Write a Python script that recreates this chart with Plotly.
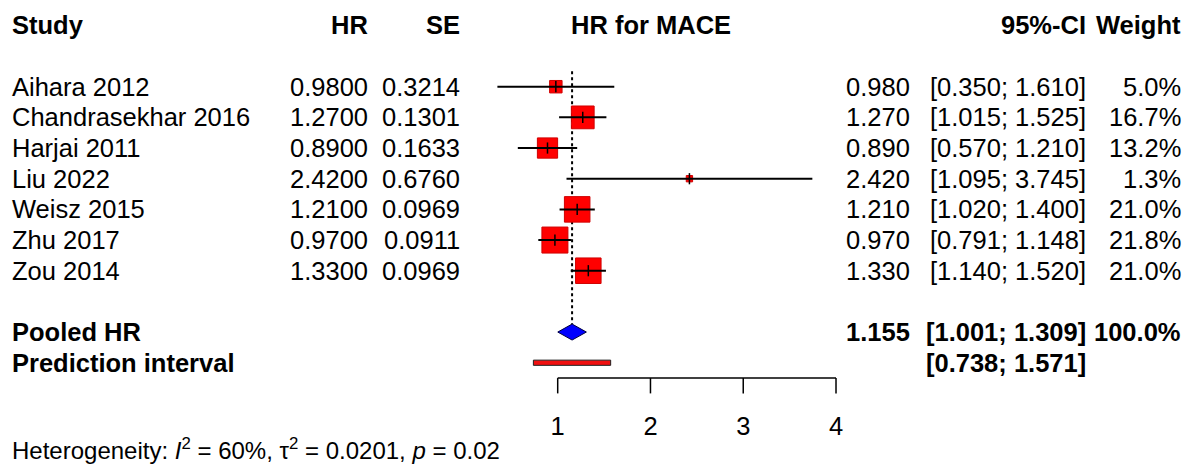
import math
import plotly.graph_objects as go

# ---------------- data ----------------
studies = ["Aihara 2012", "Chandrasekhar 2016", "Harjai 2011", "Liu 2022",
           "Weisz 2015", "Zhu 2017", "Zou 2014"]
hr = [0.98, 1.27, 0.89, 2.42, 1.21, 0.97, 1.33]
se = [0.3214, 0.1301, 0.1633, 0.6760, 0.0969, 0.0911, 0.0969]
ci_lo = [0.350, 1.015, 0.570, 1.095, 1.020, 0.791, 1.140]
ci_hi = [1.610, 1.525, 1.210, 3.745, 1.400, 1.148, 1.520]
weights = [5.0, 16.7, 13.2, 1.3, 21.0, 21.8, 21.0]
pooled_hr = 1.155
pooled_lo = 1.001
pooled_hi = 1.309
pooled_weight = 100.0
pred_lo = 0.738
pred_hi = 1.571
tick_vals = [1, 2, 3, 4]
tick_text = ["1", "2", "3", "4"]
het_text = "Heterogeneity: <i>I</i><sup>2</sup> = 60%, \u03c4<sup>2</sup> = 0.0201, <i>p</i> = 0.02"

# ---------------- layout constants ----------------
W, H = 1194, 470
FONT = "Liberation Sans, Arial, Helvetica, sans-serif"
FS = 25.5
px_per_unit = 92.77
x0 = 1 - 557.7 / px_per_unit
x1 = x0 + W / px_per_unit
row_px = 30.67
first_row_px = 86.7
y_top = 1 - first_row_px / row_px
y_bot = 1 + (H - first_row_px) / row_px

rows = list(range(1, len(studies) + 1))
pooled_row = len(studies) + 2
pred_row = pooled_row + 1
header_row = -1
axis_row = pred_row + 0.5
tick_bottom_row = axis_row + 0.5
ticklabel_row = axis_row + 1.65
het_row = 12.8

fig = go.Figure()

# dotted reference line at pooled estimate
diamond_half = 8 / row_px
fig.add_trace(go.Scatter(x=[pooled_hr, pooled_hr], y=[0.5, pooled_row - diamond_half],
                         mode="lines", line=dict(color="black", width=2, dash="dot"),
                         hoverinfo="skip"))

# squares
max_w = max(weights)
sizes = [26 * math.sqrt(w / max_w) for w in weights]
fig.add_trace(go.Scatter(x=hr, y=rows, mode="markers",
                         marker=dict(symbol="square", size=sizes, color="#FF0000", opacity=1,
                                     line=dict(color="#D00000", width=1)),
                         hoverinfo="skip"))

# CI lines
cx, cy = [], []
for lo, hi, r in zip(ci_lo, ci_hi, rows):
    cx += [lo, hi, None]
    cy += [r, r, None]
fig.add_trace(go.Scatter(x=cx, y=cy, mode="lines", line=dict(color="black", width=2),
                         hoverinfo="skip"))

# small vertical ticks at estimate
fig.add_trace(go.Scatter(x=hr, y=rows, mode="markers",
                         marker=dict(symbol="line-ns", size=8, opacity=1,
                                     line=dict(color="black", width=1.5)),
                         hoverinfo="skip"))

# pooled diamond
fig.add_trace(go.Scatter(x=[pooled_lo, pooled_hr, pooled_hi, pooled_hr, pooled_lo],
                         y=[pooled_row, pooled_row - diamond_half, pooled_row,
                            pooled_row + diamond_half, pooled_row],
                         mode="lines", fill="toself", fillcolor="#0000FF",
                         line=dict(color="#000040", width=1), hoverinfo="skip"))

# prediction interval bar
ph = 2.6 / row_px
fig.add_trace(go.Scatter(x=[pred_lo, pred_hi, pred_hi, pred_lo, pred_lo],
                         y=[pred_row - ph, pred_row - ph, pred_row + ph, pred_row + ph, pred_row - ph],
                         mode="lines", fill="toself", fillcolor="#F01010",
                         line=dict(color="#202020", width=1), hoverinfo="skip"))

# x axis (drawn)
ax_x, ax_y = [tick_vals[0], tick_vals[-1], None], [axis_row, axis_row, None]
for t in tick_vals:
    ax_x += [t, t, None]
    ax_y += [axis_row, tick_bottom_row, None]
fig.add_trace(go.Scatter(x=ax_x, y=ax_y, mode="lines", line=dict(color="black", width=1.5),
                         hoverinfo="skip"))
fig.add_trace(go.Scatter(x=tick_vals, y=[ticklabel_row] * len(tick_vals), mode="text",
                         text=tick_text, textposition="middle center",
                         textfont=dict(family=FONT, size=FS, color="black"),
                         hoverinfo="skip"))

# ---------------- text columns ----------------
def ann(px, row, text, anchor, bold=False, size=FS):
    fig.add_annotation(x=px / W, xref="paper", y=row, yref="y",
                       text=("<b>%s</b>" % text) if bold else text,
                       showarrow=False, xanchor=anchor, yanchor="middle",
                       borderpad=0, font=dict(family=FONT, size=size, color="black"))

COL_STUDY = 11
COL_HR = 369
COL_SE = 461
COL_PLOT = 651
COL_EST = 911
COL_CI = 1087
COL_W = 1182

ann(COL_STUDY, header_row, "Study", "left", True)
ann(COL_HR, header_row, "HR", "right", True)
ann(COL_SE, header_row, "SE", "right", True)
ann(COL_PLOT, header_row, "HR for MACE", "center", True)
ann(COL_CI, header_row, "95%-CI", "right", True)
ann(COL_W, header_row, "Weight", "right", True)

for s, h, e, lo, hi, w, r in zip(studies, hr, se, ci_lo, ci_hi, weights, rows):
    ann(COL_STUDY, r, s, "left")
    ann(COL_HR, r, "%.4f" % h, "right")
    ann(COL_SE, r, "%.4f" % e, "right")
    ann(COL_EST, r, "%.3f" % h, "right")
    ann(COL_CI, r, "[%.3f; %.3f]" % (lo, hi), "right")
    ann(COL_W, r, "%.1f%%" % w, "right")

ann(COL_STUDY, pooled_row, "Pooled HR", "left", True)
ann(COL_EST, pooled_row, "%.3f" % pooled_hr, "right", True)
ann(COL_CI, pooled_row, "[%.3f; %.3f]" % (pooled_lo, pooled_hi), "right", True)
ann(COL_W, pooled_row, "%.1f%%" % pooled_weight, "right", True)
ann(COL_STUDY, pred_row, "Prediction interval", "left", True)
ann(COL_CI, pred_row, "[%.3f; %.3f]" % (pred_lo, pred_hi), "right", True)

ann(COL_STUDY, het_row, het_text, "left", size=24)

fig.update_layout(
    width=W, height=H, autosize=False,
    margin=dict(l=0, r=0, t=0, b=0, pad=0),
    paper_bgcolor="white", plot_bgcolor="white",
    showlegend=False,
    xaxis=dict(range=[x0, x1], visible=False, fixedrange=True),
    yaxis=dict(range=[y_bot, y_top], visible=False, fixedrange=True),
)

fig.write_html("out.html", config={"displayModeBar": False},
               post_script="document.body.style.margin='0';document.body.style.overflow='hidden';")
